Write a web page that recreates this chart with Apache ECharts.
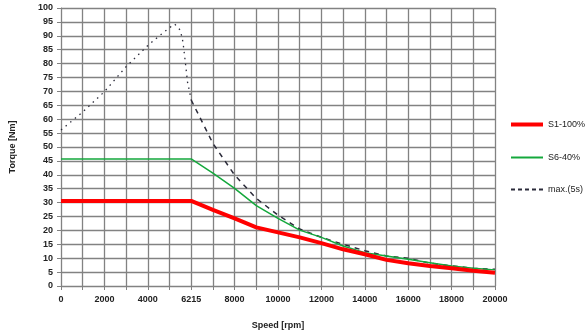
<!DOCTYPE html>
<html>
<head>
<meta charset="utf-8">
<script src="https://cdn.jsdelivr.net/npm/echarts@6/dist/echarts.min.js"></script>
<style>
  html, body { margin: 0; padding: 0; background: #ffffff; }
  #chart { width: 587px; height: 335px; }
</style>
</head>
<body>
<div id="chart"></div>
<script>
// Speed points, evenly spaced along the axis (the knee sits at 6215 rpm)
const speedLabels = ['0', '1000', '2000', '3000', '4000', '5000', '6215', '7000', '8000', '9000',
  '10000', '11000', '12000', '13000', '14000', '15000', '16000', '17000', '18000', '19000', '20000'];

// Continuous duty S1-100% torque [Nm] at each speed point
const s1Torque = [30.6, 30.6, 30.6, 30.6, 30.6, 30.6, 30.6, 27.4, 24.3, 21.1, 19.3,
  17.5, 15.4, 13.2, 11.4, 9.4, 8.2, 7.2, 6.4, 5.5, 4.8];

// Intermittent duty S6-40% torque [Nm]
const s6Torque = [45.7, 45.7, 45.7, 45.7, 45.7, 45.7, 45.7, 40.6, 35.1, 28.9, 24.3,
  20.1, 17.5, 14.4, 12.0, 10.8, 9.6, 8.4, 7.2, 6.4, 5.8];

// Peak torque max.(5s): rising part up to the knee (positions on the speed scale)
const maxRisePos = [0, 1, 2, 3, 4, 4.5, 5, 5.24, 5.5, 5.62, 5.73, 5.83, 5.93, 6];
const maxRiseTorque = [56.1, 62.6, 69.9, 78.9, 86.5, 89.8, 92.9, 94.2, 92.0, 87.8, 80.5, 73.3, 69.7, 66.9];

// Peak torque max.(5s): falling part from the knee to top speed
const maxFallPos = [6, 7, 8, 9, 10, 11, 12, 13, 14, 15, 16, 17, 18, 19, 20];
const maxFallTorque = [66.9, 51.3, 39.9, 31.5, 25.5, 20.5, 17.5, 15.0, 12.7, 10.8, 10.0, 8.2, 7.2, 6.4, 6.0];

const yTicks = { min: 0, max: 100, step: 5 };

const pairs = (xs, ys) => xs.map((x, i) => [x, ys[i]]);
const indexPairs = ys => ys.map((y, i) => [i, y]);

const font = '"Liberation Sans", Arial, sans-serif';
const gridColor = '#828282';
const red = '#ff0000';
const green = '#14a83c';
const dark = '#2b2b3a';

// Legend keys drawn as plain line swatches (solid thick, solid thin, dashed)
const thickKey = 'path://M0,0h32v4h-32z';
const thinKey = 'path://M0,0h32v2h-32z';
const dashedKey = 'path://M0,0h4v2h-4z M7,0h4v2h-4z M14,0h4v2h-4z M21,0h4v2h-4z M28,0h4v2h-4z';

const legendBox = (name, top, icon, height, color) => ({
  orient: 'vertical',
  left: 511,
  top: top,
  padding: 0,
  itemWidth: 32,
  itemHeight: height,
  itemGap: 0,
  icon: icon,
  itemStyle: { color: color, borderWidth: 0 },
  textStyle: { color: '#222', fontSize: 9, fontFamily: font },
  data: [name]
});

const chart = echarts.init(document.getElementById('chart'), null, { renderer: 'canvas' });

chart.setOption({
  backgroundColor: '#ffffff',
  animation: false,
  textStyle: { fontFamily: font },
  grid: { left: 59, right: 92, top: 8, bottom: 48, containLabel: false },
  xAxis: {
    type: 'value',
    min: 0,
    max: speedLabels.length - 1,
    interval: 1,
    name: 'Speed [rpm]',
    nameLocation: 'middle',
    nameGap: 35,
    nameTextStyle: { color: '#222', fontSize: 9, fontWeight: 'bold', fontFamily: font },
    axisLine: { show: true, lineStyle: { color: gridColor, width: 1 } },
    axisTick: { show: true, length: 4, lineStyle: { color: gridColor } },
    splitLine: { show: true, lineStyle: { color: gridColor, width: 1.3 } },
    axisLabel: {
      color: '#222', fontSize: 9, fontWeight: 'bold', margin: 9, fontFamily: font,
      formatter: v => (Math.round(v) % 2 === 0 ? speedLabels[Math.round(v)] : '')
    }
  },
  yAxis: {
    type: 'value',
    min: yTicks.min,
    max: yTicks.max,
    interval: yTicks.step,
    name: 'Torque [Nm]',
    nameLocation: 'middle',
    nameGap: 44,
    nameRotate: 90,
    nameTextStyle: { color: '#222', fontSize: 9, fontWeight: 'bold', fontFamily: font },
    axisLine: { show: true, lineStyle: { color: gridColor, width: 1 } },
    axisTick: { show: true, length: 4, lineStyle: { color: gridColor } },
    splitLine: { show: true, lineStyle: { color: gridColor, width: 1.3 } },
    axisLabel: { color: '#222', fontSize: 9, fontWeight: 'bold', margin: 8, fontFamily: font }
  },
  legend: [
    legendBox('S1-100%', 120, thickKey, 12, red),
    legendBox('S6-40%', 153, thinKey, 12, green),
    legendBox('max.(5s)', 185, dashedKey, 12, dark)
  ],
  series: [
    {
      name: 'S1-100%',
      type: 'line',
      data: indexPairs(s1Torque),
      showSymbol: false,
      symbol: 'none',
      z: 5,
      lineStyle: { color: red, width: 4 },
      itemStyle: { color: red }
    },
    {
      name: 'S6-40%',
      type: 'line',
      data: indexPairs(s6Torque),
      showSymbol: false,
      symbol: 'none',
      z: 4,
      lineStyle: { color: green, width: 1.5 },
      itemStyle: { color: green }
    },
    {
      name: 'max.(5s)',
      type: 'line',
      data: pairs(maxFallPos, maxFallTorque),
      showSymbol: false,
      symbol: 'none',
      z: 3,
      lineStyle: { color: dark, width: 1.5, type: [5, 5] },
      itemStyle: { color: dark }
    },
    {
      name: 'max.(5s)',
      type: 'line',
      data: pairs(maxRisePos, maxRiseTorque),
      showSymbol: false,
      symbol: 'none',
      z: 3,
      lineStyle: { color: dark, width: 1.3, type: [1.5, 4.5] },
      itemStyle: { color: dark }
    }
  ]
});
</script>
</body>
</html>
